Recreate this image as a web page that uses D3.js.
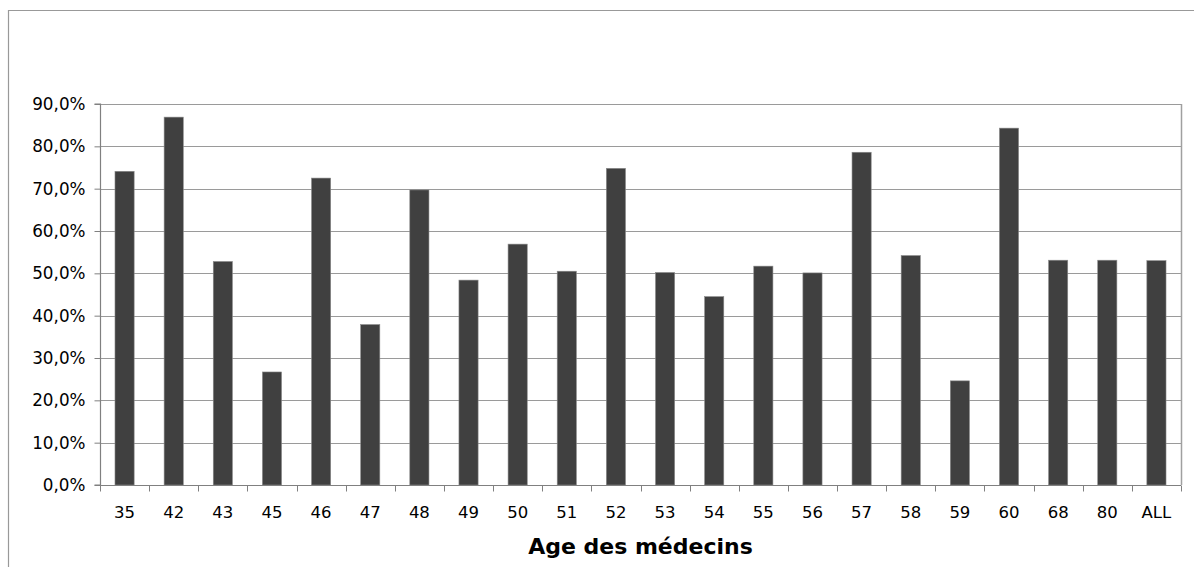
<!DOCTYPE html>
<html><head><meta charset="utf-8">
<script src="https://cdn.jsdelivr.net/npm/d3@7"></script>
<style>
html,body{margin:0;padding:0;background:#fff;}
svg{display:block;font-family:"DejaVu Sans",Verdana,sans-serif;}
</style></head>
<body><svg id="c" width="1194" height="567"></svg>
<script>
const categories = ["35","42","43","45","46","47","48","49","50","51","52","53","54","55","56","57","58","59","60","68","80","ALL"];
const values = [74.1,86.9,52.8,26.7,72.5,37.9,69.7,48.4,56.9,50.5,74.8,50.2,44.5,51.7,50.1,78.6,54.2,24.6,84.3,53.1,53.1,53.0];
const yTicks = [0,10,20,30,40,50,60,70,80,90];
const xTitle = "Age des médecins";

const svg = d3.select("#c");
const pL = 100, pR = 1181, pT = 104, pB = 485;

// outer frame
svg.append("path").attr("d","M8.5,600 V10.5 H1200").attr("fill","none").attr("stroke","#999").attr("stroke-width",1.2);

const x = d3.scaleBand().domain(categories).range([pL,pR]).paddingInner(0).paddingOuter(0);
const y = d3.scaleLinear().domain([0,90]).range([pB,pT]);

// gridlines
svg.append("g").selectAll("line").data(yTicks.filter(d=>d>0)).join("line")
  .attr("x1",pL).attr("x2",pR).attr("y1",d=>Math.round(y(d))+0.5).attr("y2",d=>Math.round(y(d))+0.5)
  .attr("stroke","#9a9a9a").attr("stroke-width",1);

// right border
svg.append("line").attr("x1",pR+0.5).attr("x2",pR+0.5).attr("y1",pT).attr("y2",pB)
  .attr("stroke","#a0a0a0").attr("stroke-width",1.5);

// bars
const bw = x.bandwidth()*0.39;
svg.append("g").selectAll("rect").data(values).join("rect")
  .attr("x",(d,i)=>x(categories[i])+x.bandwidth()/2-bw/2)
  .attr("width",bw)
  .attr("y",d=>y(d))
  .attr("height",d=>pB-y(d))
  .attr("fill","#404040").attr("stroke","#8a8a8a").attr("stroke-width",0.6);

// y axis
const yAxis = d3.axisLeft(y).tickValues(yTicks).tickSize(6).tickPadding(9)
  .tickFormat(d=>d3.format(".1f")(d).replace(".",",")+"%");
const gy = svg.append("g").attr("transform",`translate(${pL+0.5},0)`).call(yAxis);
gy.select(".domain").attr("stroke","#808080").attr("stroke-width",1.2).attr("d",`M-6,${pB}H0V${pT}H-6`);
gy.selectAll(".tick line").attr("stroke","#808080");
gy.selectAll(".tick text").attr("font-size",16.8).attr("fill","#000").attr("font-family","DejaVu Sans");

// x axis with ticks on band boundaries
const gx = svg.append("g").attr("transform",`translate(0,${pB+0.5})`);
gx.append("line").attr("x1",pL).attr("x2",pR).attr("stroke","#808080").attr("stroke-width",1.2);
const bounds = categories.map(c=>x(c)).concat([pR]);
gx.selectAll(".tk").data(bounds).join("line").attr("class","tk")
  .attr("x1",d=>Math.round(d)+0.5).attr("x2",d=>Math.round(d)+0.5).attr("y1",0).attr("y2",6).attr("stroke","#808080");
gx.selectAll(".lb").data(categories).join("text").attr("class","lb")
  .attr("x",d=>x(d)+x.bandwidth()/2).attr("y",32).attr("text-anchor","middle")
  .attr("font-size",16.5).attr("fill","#000").text(d=>d);

// x title
svg.append("text").attr("x",(pL+pR)/2).attr("y",554).attr("text-anchor","middle")
  .attr("font-size",22).attr("font-weight","bold").attr("fill","#000").text(xTitle);
</script></body></html>
